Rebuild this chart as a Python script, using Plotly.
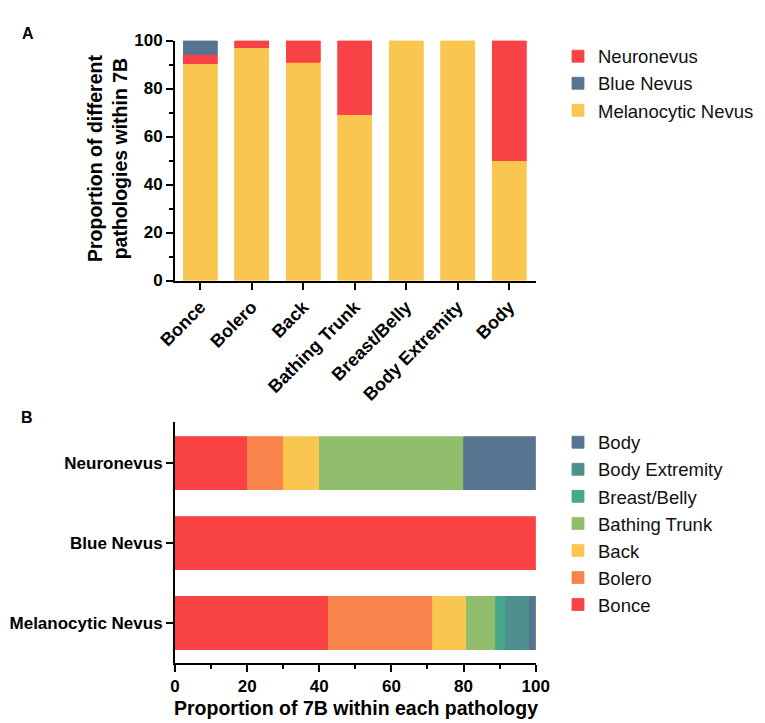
import plotly.graph_objects as go

# Panel A: share of each pathology within every body site (%)
SITES = ["Bonce", "Bolero", "Back", "Bathing Trunk", "Breast/Belly", "Body Extremity", "Body"]
melanocytic_share = [90.3, 96.9, 91.0, 69.0, 100, 100, 50.0]
neuronevus_share = [4.0, 3.1, 9.0, 31.0, None, None, 50.0]
blue_share = [5.7, None, None, None, None, None, None]

# Panel B: share of each body site within every pathology (%)
PATHOLOGIES = ["Melanocytic Nevus", "Blue Nevus", "Neuronevus"]
bonce = [42.5, 100, 20]
bolero = [29.0, None, 10]
back = [9.3, None, 10]
bathing_trunk = [8.1, None, 40]
breast_belly = [2.7, None, None]
body_extremity = [6.6, None, None]
body = [1.8, None, 20]

FONT = "Arial, Liberation Sans, sans-serif"
RED = "#F94246"
ORANGE = "#F8844B"
YELLOW = "#F9C74F"
GREEN = "#90BE6D"
TEAL = "#43AA8B"
DKTEAL = "#4D908E"
BLUE = "#577590"

# page body adds an 8px margin, so the figure is drawn 8px smaller and laid out
# in page pixels through these two helpers
W, H, OFF = 757, 715, 8


def px(x):
    return (x - OFF) / W


def py(y):
    return 1 - (y - OFF) / H


fig = go.Figure()

# --- panel A (stacked vertical bars)
for name, vals, col, rank in [
    ("Melanocytic Nevus", melanocytic_share, YELLOW, 3),
    ("Neuronevus", neuronevus_share, RED, 1),
    ("Blue Nevus", blue_share, BLUE, 2),
]:
    fig.add_trace(go.Bar(
        x=SITES, y=vals, name=name, width=0.66,
        marker=dict(color=col, line=dict(color=col, width=0.8)),
        xaxis="x", yaxis="y", legend="legend", legendrank=rank,
    ))

# --- panel B (stacked horizontal bars)
for name, vals, col in [
    ("Bonce", bonce, RED),
    ("Bolero", bolero, ORANGE),
    ("Back", back, YELLOW),
    ("Bathing Trunk", bathing_trunk, GREEN),
    ("Breast/Belly", breast_belly, TEAL),
    ("Body Extremity", body_extremity, DKTEAL),
    ("Body", body, BLUE),
]:
    fig.add_trace(go.Bar(
        y=PATHOLOGIES, x=vals, name=name, orientation="h", width=0.667,
        marker=dict(color=col, line=dict(color=col, width=0.8)),
        xaxis="x2", yaxis="y2", legend="legend2",
    ))

num_font = dict(family=FONT, size=17, color="black", weight="bold")
axis_common = dict(showline=True, linecolor="black", linewidth=2, ticks="outside",
                   tickcolor="black", tickwidth=2, ticklen=7, showgrid=False,
                   zeroline=False, fixedrange=True)
minor_ticks = dict(dtick=10, ticks="outside", ticklen=4, tickwidth=2, tickcolor="black")
legend_font = dict(family=FONT, size=18.5, color="#111")
title_font = dict(family=FONT, size=19.5, color="black", weight="bold")

fig.update_layout(
    width=W, height=H,
    margin=dict(l=0, r=0, t=0, b=0, autoexpand=False),
    paper_bgcolor="white", plot_bgcolor="white",
    barmode="stack", font=dict(family=FONT, color="black"),
    xaxis=dict(domain=[px(175), px(536)], anchor="y", range=[-0.49, 6.52],
               tickangle=-45, tickfont=dict(num_font, size=18), **axis_common),
    yaxis=dict(domain=[py(280.5), py(40.5)], anchor="x", range=[0, 100],
               dtick=20, minor=minor_ticks, tickfont=num_font, **axis_common),
    xaxis2=dict(domain=[px(175), px(535.7)], anchor="y2", range=[0, 100],
                dtick=20, minor=minor_ticks, tickfont=num_font, **axis_common),
    yaxis2=dict(domain=[py(663), py(421.7)], anchor="x2", range=[-0.5, 2.52],
                tickfont=num_font, **axis_common),
    legend=dict(x=px(558), y=py(37.7), xanchor="left", yanchor="top",
                traceorder="normal", font=legend_font, bgcolor="rgba(0,0,0,0)"),
    legend2=dict(x=px(558), y=py(423.7), xanchor="left", yanchor="top",
                 traceorder="reversed", font=legend_font, bgcolor="rgba(0,0,0,0)"),
    annotations=[
        dict(text="A", x=px(20), y=py(23), xref="paper", yref="paper",
             showarrow=False, font=dict(family=FONT, size=16, weight="bold")),
        dict(text="B", x=px(19), y=py(417), xref="paper", yref="paper",
             showarrow=False, font=dict(family=FONT, size=16, weight="bold")),
        dict(text="Proportion of different<br>pathologies within 7B",
             x=px(108), y=py(159), xref="paper", yref="paper", textangle=-90,
             xanchor="center", yanchor="middle", showarrow=False, font=title_font),
        dict(text="Proportion of 7B within each pathology",
             x=px(355.5), y=py(708), xref="paper", yref="paper",
             xanchor="center", yanchor="middle", showarrow=False, font=title_font),
    ],
)

fig.write_html("out.html")
